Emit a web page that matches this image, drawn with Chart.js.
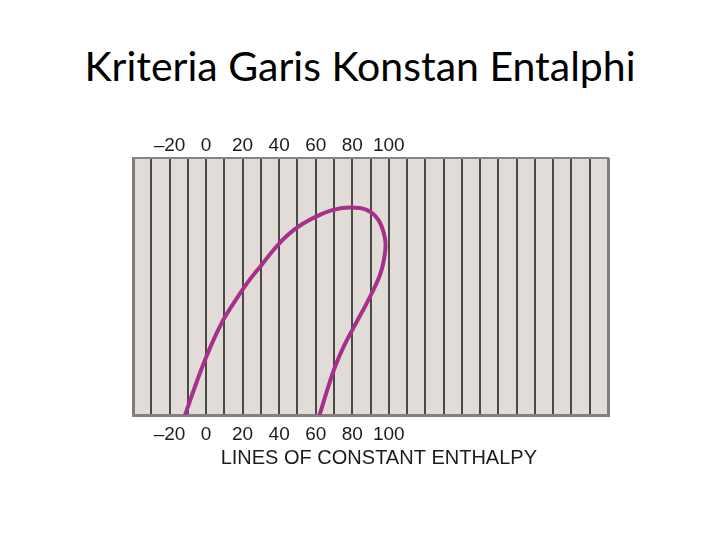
<!DOCTYPE html>
<html>
<head>
<meta charset="utf-8">
<script src="https://cdn.jsdelivr.net/npm/chart.js@4"></script>
<style>
  html, body { margin: 0; padding: 0; background: #fff; }
  #wrap { position: relative; width: 720px; height: 540px; overflow: hidden; }
  #title {
    position: absolute; left: 0; top: 41px; width: 720px;
    text-align: center; font-family: Lato, "Open Sans", sans-serif;
    font-size: 41px; color: #000; line-height: 1.2;
  }
  #chart { position: absolute; left: 0; top: 0; }
</style>
</head>
<body>
<div id="wrap">
  <div id="title">Kriteria Garis Konstan Entalphi</div>
  <canvas id="chart" width="720" height="540"></canvas>
</div>
<script>
// enthalpy axis
const enthalpyMin = -40;
const enthalpyMax = 220;
const lineStep = 10;
const tickValues = [-20, 0, 20, 40, 60, 80, 100];
const tickLabels = ['–20', '0', '20', '40', '60', '80', '100'];
const axisTitle = 'LINES OF CONSTANT ENTHALPY';

// saturation dome (y is a 0-100 pressure scale)
const domeH = [-11.5, -6.1, -0.6, 4.9, 10.4, 16.8, 23.1, 30.4, 37.7, 45.0, 52.5, 60.5, 69.6, 78.8, 87.9, 94.3, 97.9, 97.9, 95.2, 88.8, 81.2, 75.3, 70.6, 66.9, 62.1];
const domeP = [0, 11.0, 21.4, 30.5, 38.2, 45.4, 51.9, 58.4, 64.9, 70.2, 74.2, 77.3, 79.8, 80.7, 79.8, 75.9, 68.8, 62.9, 54.5, 44.7, 34.6, 26.6, 18.8, 11.0, 0];

const domePoints = domeH.map((h, i) => ({ x: h, y: domeP[i] }));

function tickText(v) {
  const i = tickValues.indexOf(v);
  return i >= 0 ? tickLabels[i] : '';
}

const plotBg = {
  id: 'plotBg',
  beforeDraw(chart) {
    const a = chart.chartArea;
    const c = chart.ctx;
    c.save();
    c.fillStyle = '#e2dcd9';
    c.fillRect(a.left, a.top, a.right - a.left, a.bottom - a.top);
    c.restore();
  }
};

const tickFont = { family: '"Liberation Sans", Arial, sans-serif', size: 19 };
const isEdge = (ctx) => ctx.tick && (ctx.tick.value === enthalpyMin || ctx.tick.value === enthalpyMax);

new Chart(document.getElementById('chart'), {
  type: 'scatter',
  data: {
    datasets: [{
      data: domePoints,
      showLine: true,
      tension: 0.35,
      borderColor: '#a6308a',
      borderWidth: 4,
      pointRadius: 0,
      fill: false
    }]
  },
  options: {
    responsive: false,
    animation: false,
    layout: { padding: { left: 133, right: 112, top: 120, bottom: 65 } },
    plugins: { legend: { display: false }, tooltip: { enabled: false } },
    scales: {
      x: {
        type: 'linear',
        position: 'bottom',
        min: enthalpyMin,
        max: enthalpyMax,
        afterFit: (s) => { s.height = 60; },
        ticks: {
          stepSize: lineStep,
          autoSkip: false,
          maxRotation: 0,
          minRotation: 0,
          padding: 8,
          color: '#1c1c1c',
          font: tickFont,
          callback: tickText
        },
        grid: {
          drawTicks: false,
          color: (ctx) => isEdge(ctx) ? '#827c7a' : '#4d4848',
          lineWidth: (ctx) => isEdge(ctx) ? 3 : 2
        },
        border: { display: true, color: '#858080', width: 3 },
        title: {
          display: true,
          text: '   ' + axisTitle,
          color: '#1c1c1c',
          font: { family: '"Liberation Sans", Arial, sans-serif', size: 20 },
          padding: { top: 0, bottom: 5 }
        }
      },
      x2: {
        type: 'linear',
        position: 'top',
        min: enthalpyMin,
        max: enthalpyMax,
        afterFit: (s) => { s.height = 38; },
        ticks: {
          stepSize: lineStep,
          autoSkip: false,
          maxRotation: 0,
          minRotation: 0,
          padding: 1,
          color: '#1c1c1c',
          font: tickFont,
          callback: tickText
        },
        grid: { display: false, drawTicks: false },
        border: { display: true, color: '#8a8584', width: 2 }
      },
      y: {
        display: false,
        min: 0,
        max: 100
      }
    }
  },
  plugins: [plotBg]
});
</script>
</body>
</html>
